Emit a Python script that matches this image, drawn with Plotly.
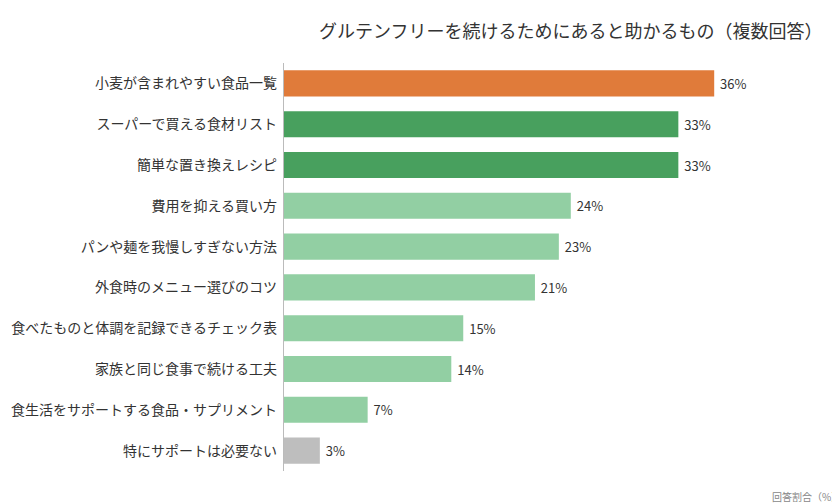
import plotly.graph_objects as go

categories = ['小麦が含まれやすい食品一覧', 'スーパーで買える食材リスト', '簡単な置き換えレシピ',
              '費用を抑える買い方', 'パンや麺を我慢しすぎない方法', '外食時のメニュー選びのコツ',
              '食べたものと体調を記録できるチェック表', '家族と同じ食事で続ける工夫',
              '食生活をサポートする食品・サプリメント', '特にサポートは必要ない']
values = [36, 33, 33, 24, 23, 21, 15, 14, 7, 3]
colors = ['#E07B3A', '#48A05E', '#48A05E'] + ['#92CFA3'] * 6 + ['#BEBEBE']

fig = go.Figure(go.Bar(
    x=values, y=categories, orientation='h',
    marker=dict(color=colors, line=dict(width=0)),
    width=0.64,
    text=[f' {v}%' for v in values], textposition='outside',
    textfont=dict(size=13, color='#333333'), cliponaxis=False,
))

fig.update_layout(
    width=840, height=504,
    margin=dict(l=276, r=86, t=55, b=41, autoexpand=False),
    plot_bgcolor='white', paper_bgcolor='white',
    font=dict(family='Noto Sans CJK JP', size=14, color='#333333'),
    title=dict(text='グルテンフリーを続けるためにあると助かるもの（複数回答）',
               x=0.67, xanchor='center', y=0.965, font=dict(size=18)),
    showlegend=False,
    xaxis=dict(range=[0, 40], visible=False),
    yaxis=dict(autorange='reversed', showline=True, linecolor='#BBBBBB',
               ticks='', ticksuffix=' ', showgrid=False, automargin=False),
    annotations=[dict(text='回答割合（%）', x=1.17, y=-0.04, xref='paper', yref='paper',
                      xanchor='right', yanchor='top', showarrow=False,
                      font=dict(size=10, color='#888888'))],
)

fig.write_html('out.html')
